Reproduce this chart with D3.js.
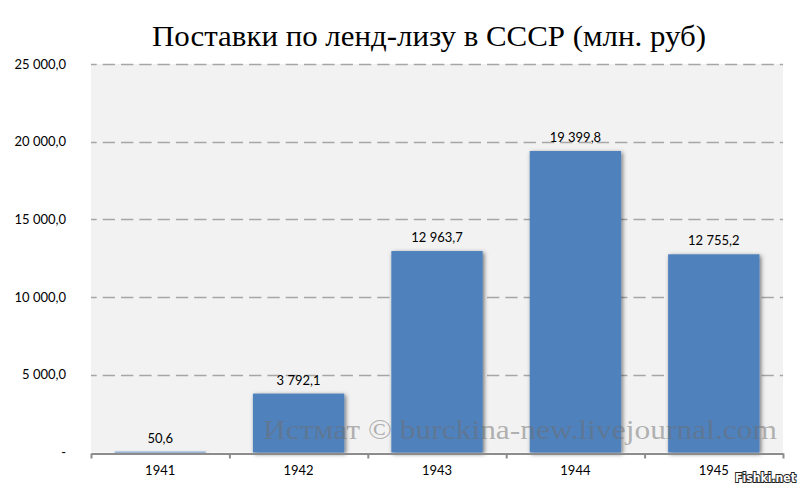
<!DOCTYPE html>
<meta charset="UTF-8">
<html lang="ru">
<head><link rel="icon" href="data:,"></head>
<style>
body {
  margin: 0;
  background: #FFFFFF;
}
.ylab, .xlab, .vlab {
  font-family: Lato, "Open Sans", sans-serif;
  font-size: 13px;
  fill: #000000;
}
.title {
  font-family: "Liberation Serif", "DejaVu Serif", serif;
  font-size: 29px;
  fill: #000000;
}
.mark {
  font-family: "Liberation Serif", "DejaVu Serif", serif;
  font-size: 28px;
  fill: #6E6E6E;
  fill-opacity: 0.5;
}
.fishki {
  font-family: "DejaVu Sans", sans-serif;
  font-weight: bold;
  font-size: 12px;
  fill: #FFFFFF;
  stroke: #222222;
  stroke-width: 2px;
  paint-order: stroke;
}
</style>
<script src="https://unpkg.com/d3@7.0.1/dist/d3.min.js"></script>
<body>
  <svg id="view"></svg>
</body>
<script>
const viewDims = { width: 800, height: 490 };
const plot = { left: 91, right: 783, top: 64, bottom: 452.5 };

const years = ["1941", "1942", "1943", "1944", "1945"];
const supplies = [50.6, 3792.1, 12963.7, 19399.8, 12755.2];
const yTicks = [0, 5000, 10000, 15000, 20000, 25000];
const titleText = "Поставки по ленд-лизу в СССР (млн. руб)";
const watermark = "Истмат © burckina-new.livejournal.com";

const ru = d3.formatLocale({ decimal: ",", thousands: "\u00a0", grouping: [3], currency: ["", ""] });
const fmt = ru.format(",.1f");

let svg = d3.select("svg#view")
    .attr("width", viewDims.width)
    .attr("height", viewDims.height);

const x = d3.scaleBand()
    .domain(years)
    .range([plot.left, plot.right])
    .paddingInner(0.34)
    .paddingOuter(0.17);

const y = d3.scaleLinear()
    .domain([0, 25000])
    .range([plot.bottom, plot.top]);

// shadow under the bars
const defs = svg.append("defs");
defs.append("filter")
    .attr("id", "shadow")
    .attr("x", "-20%").attr("y", "-200%")
    .attr("width", "140%").attr("height", "500%")
    .append("feDropShadow")
    .attr("dx", 1.5).attr("dy", 1.5)
    .attr("stdDeviation", 2.2)
    .attr("flood-color", "#000")
    .attr("flood-opacity", 0.55);

svg.append("rect")
    .attr("x", plot.left)
    .attr("y", plot.top)
    .attr("width", plot.right - plot.left)
    .attr("height", plot.bottom - plot.top)
    .attr("fill", "#F2F2F2");

svg.append("g")
    .attr("id", "grid")
    .selectAll("line")
    .data(yTicks.filter(t => t > 0))
    .enter()
    .append("line")
    .attr("x1", plot.left)
    .attr("x2", plot.right)
    .attr("y1", d => Math.round(y(d)) + 0.5)
    .attr("y2", d => Math.round(y(d)) + 0.5)
    .attr("stroke", "#A6A6A6")
    .attr("stroke-width", 1.4)
    .attr("stroke-dasharray", "12.3,6")
    .attr("stroke-dashoffset", 6.6);

// y axis labels
const yAxis = d3.axisLeft(y)
    .tickValues(yTicks)
    .tickSize(0)
    .tickPadding(25)
    .tickFormat(d => d === 0 ? "-" : fmt(d));
svg.append("g")
    .attr("transform", `translate(${plot.left},0)`)
    .call(yAxis)
    .call(g => g.select(".domain").remove())
    .call(g => g.selectAll("text").attr("class", "ylab").attr("fill", null).attr("font-size", null).attr("font-family", null));

svg.append("g")
    .attr("id", "bars")
    .selectAll("rect")
    .data(years)
    .enter()
    .append("rect")
    .attr("x", d => x(d))
    .attr("width", x.bandwidth())
    .attr("y", (d, i) => y(supplies[i]))
    .attr("height", (d, i) => Math.max(plot.bottom - y(supplies[i]), 0.8))
    .attr("fill", "#4F81BD")
    .attr("filter", "url(#shadow)");

svg.append("g")
    .attr("id", "values")
    .selectAll("text")
    .data(years)
    .enter()
    .append("text")
    .attr("class", "vlab")
    .attr("x", d => x(d) + x.bandwidth() / 2)
    .attr("y", (d, i) => y(supplies[i]) - 9)
    .attr("text-anchor", "middle")
    .text((d, i) => fmt(supplies[i]));

// x axis: ticks between categories
const xEdge = d3.scaleLinear().domain([0, years.length]).range([plot.left, plot.right]);
const xAxis = d3.axisBottom(xEdge)
    .tickValues(d3.range(years.length + 1))
    .tickSize(5)
    .tickSizeOuter(0)
    .tickFormat("");
svg.append("g")
    .attr("transform", `translate(0,${plot.bottom + 1})`)
    .call(xAxis)
    .call(g => g.select(".domain").attr("stroke", "#8C8C8C").attr("stroke-width", 2.2))
    .call(g => g.selectAll(".tick line").attr("stroke", "#8C8C8C").attr("stroke-width", 2));

svg.append("g")
    .attr("id", "xlabels")
    .selectAll("text")
    .data(years)
    .enter()
    .append("text")
    .attr("class", "xlab")
    .attr("x", d => x(d) + x.bandwidth() / 2)
    .attr("y", 475)
    .attr("text-anchor", "middle")
    .text(d => d);

svg.append("text")
    .attr("class", "title")
    .attr("x", 429)
    .attr("y", 46)
    .attr("text-anchor", "middle")
    .attr("textLength", 554)
    .attr("lengthAdjust", "spacingAndGlyphs")
    .text(titleText);

svg.append("text")
    .attr("class", "mark")
    .attr("x", 520)
    .attr("y", 439)
    .attr("text-anchor", "middle")
    .attr("textLength", 514)
    .attr("lengthAdjust", "spacingAndGlyphs")
    .text(watermark);

svg.append("text")
    .attr("class", "fishki")
    .attr("x", 735)
    .attr("y", 482)
    .attr("textLength", 61)
    .attr("lengthAdjust", "spacingAndGlyphs")
    .text("Fishki.net");
</script>
</body>
</html>
